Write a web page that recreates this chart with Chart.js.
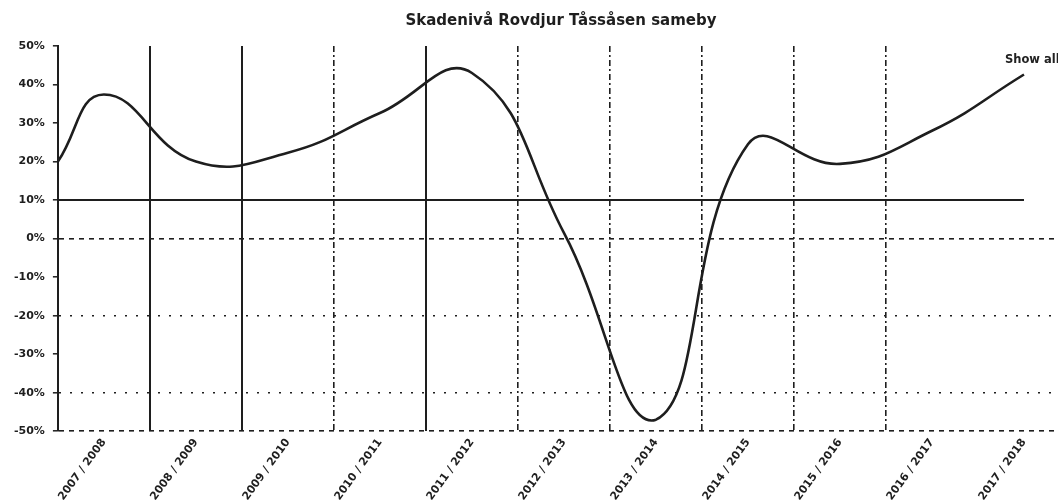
<!DOCTYPE html>
<html>
<head>
<meta charset="utf-8">
<script src="https://cdn.jsdelivr.net/npm/chart.js@4/dist/chart.umd.min.js"></script>
<style>
  html, body { margin: 0; padding: 0; background: #fff; overflow: hidden; }
  #wrap { position: relative; width: 1058px; height: 504px; overflow: hidden; }
  #showAll {
    position: absolute; left: 1005px; top: 52px;
    font: bold 11.5px "DejaVu Sans", Verdana, sans-serif; color: #222; white-space: nowrap;
  }
</style>
</head>
<body>
<div id="wrap">
  <canvas id="skadeChart" width="1126" height="504"></canvas>
  <div id="showAll">Show all</div>
</div>
<script>
// seasons on the x axis
var categories = ['2007 / 2008', '2008 / 2009', '2009 / 2010', '2010 / 2011', '2011 / 2012',
    '2012 / 2013', '2013 / 2014', '2014 / 2015', '2015 / 2016', '2016 / 2017', '2017 / 2018'];

// damage level (%) per season
var damageLevel = [37.4, 20, 22.3, 32.6, 43, 1.5, -47, 24.5, 19.4, 28, 42.6];
// curve value where it meets the y axis (left edge of the plot)
var startValue = 20;

// reference level (%), at the y axis and then per season
var referenceStart = 10;
var referenceLevel = [10, 10, 10, 10, 10, 10, 10, 10, 10, 10, 10];

var yTicks = [-50, -40, -30, -20, -10, 0, 10, 20, 30, 40, 50];

var ink = '#1e1e1e';
var font = '"DejaVu Sans", Verdana, sans-serif';

// points: left edge first, then one per season
var curvePoints = [{ x: -0.5, y: startValue }];
damageLevel.forEach(function (v, i) {
    curvePoints.push({ x: i, y: v });
});
var refPoints = [{ x: -0.5, y: referenceStart }];
referenceLevel.forEach(function (v, i) {
    refPoints.push({ x: i, y: v });
});

// vertical grid lines sit between seasons; index 0 is the y axis itself
var solidVertical = [1, 2, 4];

var ctx = document.getElementById('skadeChart').getContext('2d');
window.skadeChart = new Chart(ctx, {
    type: 'line',
    data: {
        datasets: [{
            label: 'Skadenivå',
            data: curvePoints,
            borderColor: ink,
            borderWidth: 2.6,
            pointRadius: 0,
            tension: 0.45,
            fill: false
        }, {
            label: 'Referens',
            data: refPoints,
            borderColor: ink,
            borderWidth: 2,
            pointRadius: 0,
            fill: false
        }]
    },
    options: {
        responsive: false,
        animation: false,
        layout: {
            padding: { left: 6, right: 10, top: 0, bottom: -4 }
        },
        plugins: {
            legend: { display: false },
            tooltip: { enabled: false },
            title: {
                display: true,
                text: 'Skadenivå Rovdjur Tåssåsen sameby',
                color: ink,
                font: { family: font, size: 15, weight: 'bold' },
                padding: { top: 12, bottom: 16 }
            }
        },
        scales: {
            x: {
                type: 'linear',
                min: -0.5,
                max: 11,
                bounds: 'data',
                afterBuildTicks: function (scale) {
                    scale.ticks = categories.map(function (c, i) { return { value: i }; });
                },
                ticks: {
                    autoSkip: false,
                    minRotation: 54,
                    maxRotation: 54,
                    padding: 5,
                    color: ink,
                    font: { family: font, size: 11, weight: 'bold' },
                    callback: function (value) {
                        return categories[value];
                    }
                },
                grid: {
                    offset: true,
                    drawTicks: false,
                    color: function (c) {
                        if (c.index === 0 || c.index >= 10) return 'rgba(0,0,0,0)';
                        return ink;
                    },
                    lineWidth: function (c) {
                        return solidVertical.indexOf(c.index) >= 0 ? 2 : 1.6;
                    }
                },
                border: {
                    display: false,
                    dash: function (c) {
                        if (c.index === undefined) return [];
                        return solidVertical.indexOf(c.index) >= 0 ? [] : [6, 3, 2, 3];
                    }
                }
            },
            y: {
                min: -50,
                max: 50,
                afterBuildTicks: function (scale) {
                    scale.ticks = yTicks.map(function (v) { return { value: v }; });
                },
                ticks: {
                    padding: 8,
                    color: ink,
                    font: { family: font, size: 11, weight: 'bold' },
                    callback: function (value) {
                        return value + '%';
                    }
                },
                grid: {
                    drawTicks: true,
                    tickLength: 5,
                    tickColor: ink,
                    tickWidth: 1.5,
                    tickBorderDash: [],
                    lineWidth: 1.6,
                    color: function (c) {
                        var v = c.tick ? c.tick.value : null;
                        if (v === 0 || v === -20 || v === -40 || v === -50) return ink;
                        return 'rgba(0,0,0,0)';
                    }
                },
                border: {
                    display: true,
                    color: ink,
                    width: 2,
                    dash: function (c) {
                        var v = c.tick ? c.tick.value : null;
                        if (v === -20 || v === -40) return [2, 9];
                        if (v === 0 || v === -50) return [5, 5];
                        return [];
                    }
                }
            }
        }
    }
});
</script>
</body>
</html>
